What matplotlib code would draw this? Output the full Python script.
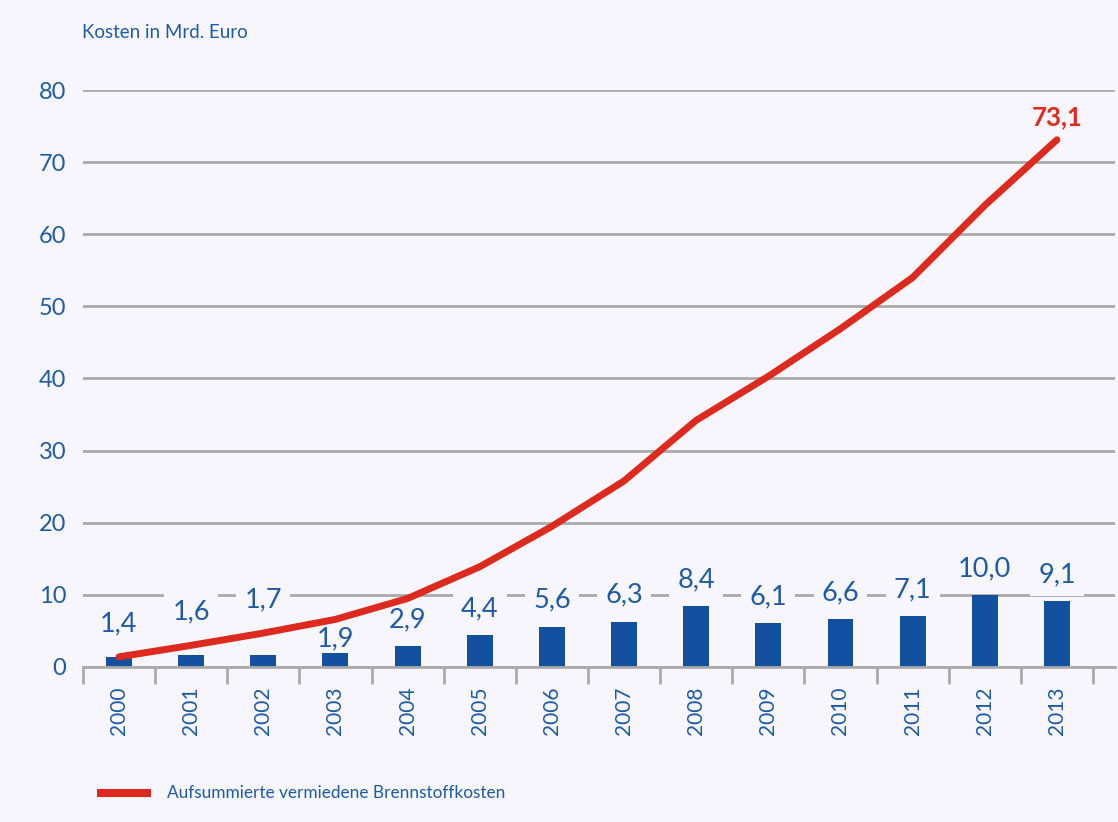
import matplotlib
matplotlib.use('Agg')
import matplotlib.pyplot as plt
import numpy as np

years = ['2000', '2001', '2002', '2003', '2004', '2005', '2006',
         '2007', '2008', '2009', '2010', '2011', '2012', '2013']
annual = [1.4, 1.6, 1.7, 1.9, 2.9, 4.4, 5.6, 6.3, 8.4, 6.1, 6.6, 7.1, 10.0, 9.1]
cumulative = np.cumsum(annual)

bg = '#f6f6fc'
blue_txt = '#1f5aa6'
bar_col = '#1350a0'
red = '#dc2a1e'
grid_col = '#aaaaaa'

plt.rcParams['font.family'] = ['Lato', 'DejaVu Sans']

fig = plt.figure(figsize=(11.18, 8.22), dpi=100, facecolor=bg)
ax = fig.add_axes([0.0742, 0.1886, 0.9228, 0.7019], facecolor=bg)

x = np.arange(len(years))
ax.bar(x, annual, width=0.36, color=bar_col, zorder=3)
ax.plot(x, cumulative, color=red, lw=5.0, solid_capstyle='round',
        solid_joinstyle='round', zorder=4)

ax.set_xlim(-0.5, 13.8)
ax.set_ylim(0, 80)

# value labels: first years sit above the red line, others above the bar,
# squeezed under the line when it runs close
label_h = 2.9  # approx. label height in data units
for i, v in enumerate(annual):
    txt = f'{v:.1f}'.replace('.', ',')
    kw = dict(ha='center', fontsize=19.5, color=blue_txt, zorder=2,
              bbox=dict(boxstyle='square,pad=0.3', fc=bg, ec='none'))
    if i < 3:
        ax.annotate(txt, (x[i], cumulative[i]), xytext=(0, 15),
                    textcoords='offset points', va='bottom', **kw)
    elif v + 2.1 + label_h > cumulative[i] - 0.5:
        ax.annotate(txt, (x[i], cumulative[i] - 1.0), va='top', **kw)
    else:
        ax.annotate(txt, (x[i], v), xytext=(0, 10),
                    textcoords='offset points', va='bottom', **kw)

ax.annotate(f'{cumulative[-1]:.1f}'.replace('.', ','), (x[-1], cumulative[-1]),
            xytext=(0, 8), textcoords='offset points', ha='center',
            va='bottom', fontsize=18.5, color=red, fontweight='bold', zorder=5)

ax.set_yticks(range(0, 81, 10))
ax.yaxis.grid(True, color=grid_col, lw=2, zorder=0)
ax.set_axisbelow(True)

ax.set_xticks(x)
ax.set_xticklabels(years, rotation=90, fontsize=15, color=blue_txt)
ax.set_xticks(np.arange(-0.5, 14, 1), minor=True)
ax.tick_params(axis='x', which='major', length=0, pad=14)
ax.tick_params(axis='x', which='minor', length=12, width=2, color=grid_col)
ax.tick_params(axis='y', length=0, pad=12, labelsize=17, labelcolor=blue_txt)

for s in ['top', 'right', 'left']:
    ax.spines[s].set_visible(False)
ax.spines['bottom'].set_color(grid_col)
ax.spines['bottom'].set_linewidth(2)
ax.spines['bottom'].set_zorder(3.5)

fig.text(0.0733, 0.960, 'Kosten in Mrd. Euro', fontsize=13.5, color=blue_txt,
         ha='left', va='center')

fig.lines.append(plt.Line2D([0.0868, 0.135], [0.035, 0.035], color=red, lw=5.8,
                            solid_capstyle='butt', transform=fig.transFigure))
fig.text(0.1494, 0.035, 'Aufsummierte vermiedene Brennstoffkosten',
         fontsize=12.4, color=blue_txt, ha='left', va='center')

fig.savefig('out.png', dpi=100, facecolor=bg)
